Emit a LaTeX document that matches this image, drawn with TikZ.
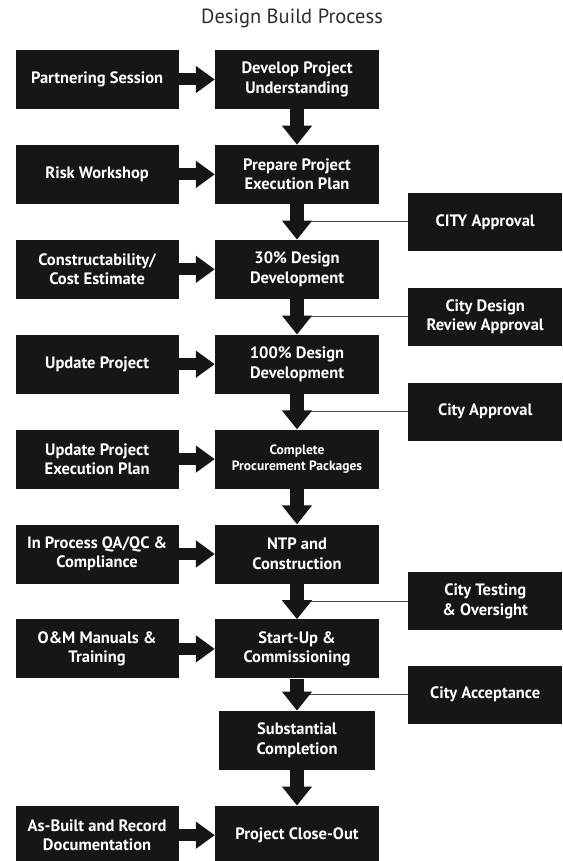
\documentclass[tikz,border=0pt]{standalone}
\usepackage{fontspec}
\setmainfont{PT Sans}
\usetikzlibrary{arrows.meta, positioning, calc}
\definecolor{boxblack}{HTML}{161616}
\definecolor{titlegray}{HTML}{2E2E2E}
\definecolor{tiegray}{HTML}{4A4A4A}

\begin{document}
\begin{tikzpicture}[x=1pt, y=-1pt,
   font=\bfseries\fontsize{16.5}{19.5}\selectfont,
   node distance=35.5pt and 36pt,
   box/.style={rectangle, fill=boxblack, text=white, align=center,
               inner sep=2pt, minimum height=59pt},
   stepbox/.style={box, minimum width=164pt},
   inbox/.style={box, minimum width=163pt},
   citybox/.style={box, minimum width=154pt, minimum height=58pt},
   flow/.style={-{Triangle[width=29pt, length=19pt]}, line width=14pt, boxblack},
   feed/.style={-{Triangle[width=26pt, length=19pt]}, line width=12pt, boxblack},
   tie/.style={tiegray, line width=1pt}]
 \useasboundingbox (0,0) rectangle (562,861);
 \node[font=\mdseries\fontsize{20.5}{24}\selectfont, text=titlegray] (title) at (292,18) {Design Build Process};
 % main column
 \node[stepbox] (dev) at (297,79.5) {Develop Project\\Understanding};
 \node[stepbox, below=of dev]   (prep)  {Prepare Project\\Execution Plan};
 \node[stepbox, below=of prep]  (d30)   {30\% Design\\Development};
 \node[stepbox, below=of d30]   (d100)  {100\% Design\\Development};
 \node[stepbox, below=of d100, font=\bfseries\fontsize{13.5}{16}\selectfont] (proc) {Complete\\Procurement Packages};
 \node[stepbox, below=of proc]  (ntp)   {NTP and\\Construction};
 \node[stepbox, below=of ntp]   (start) {Start-Up \&\\Commissioning};
 \node[stepbox, below=32pt of start, minimum width=156pt] (subst) {Substantial\\Completion};
 \node[stepbox, below=35.5pt of subst] (close) {Project Close-Out};
 % inputs
 \node[inbox, left=of dev]   (partner) {Partnering Session};
 \node[inbox, left=of prep]  (risk)    {Risk Workshop};
 \node[inbox, left=of d30]   (cost)    {Constructability/\\Cost Estimate};
 \node[inbox, left=of d100]  (upd)     {Update Project};
 \node[inbox, left=of proc]  (updpep)  {Update Project\\Execution Plan};
 \node[inbox, left=of ntp]   (qaqc)    {In Process QA/QC \&\\Compliance};
 \node[inbox, left=of start] (om)      {O\&M Manuals \&\\Training};
 \node[inbox, left=of close] (asbuilt) {As-Built and Record\\Documentation};
 % city reviews
 \coordinate (g1) at ($(prep.south)!.5!(d30.north)$);
 \coordinate (g2) at ($(d30.south)!.5!(d100.north)$);
 \coordinate (g3) at ($(d100.south)!.5!(proc.north)$);
 \coordinate (g4) at ($(ntp.south)!.5!(start.north)$);
 \coordinate (g5) at ($(start.south)!.5!(subst.north)$);
 \node[citybox, right=111pt of g1] (cityok)   {CITY Approval};
 \node[citybox, right=111pt of g2] (cityrev)  {City Design\\Review Approval};
 \node[citybox, right=111pt of g3] (cityok2)  {City Approval};
 \node[citybox, right=111pt of g4] (citytest) {City Testing\\\& Oversight};
 \node[citybox, right=111pt of g5] (cityacc)  {City Acceptance};
 \draw[tie] (g1) -- (cityok.west);
 \draw[tie] (g2) -- (cityrev.west);
 \draw[tie] (g3) -- (cityok2.west);
 \draw[tie] (g4) -- (citytest.west);
 \draw[tie] (g5) -- (cityacc.west);
 % arrows
 \draw[flow] (dev)   -- (prep);
 \draw[flow] (prep)  -- (d30);
 \draw[flow] (d30)   -- (d100);
 \draw[flow] (d100)  -- (proc);
 \draw[flow] (proc)  -- (ntp);
 \draw[flow] (ntp)   -- (start);
 \draw[flow] (start) -- (subst);
 \draw[flow] (subst) -- (close);
 \draw[feed] (partner) -- (dev);
 \draw[feed] (risk)    -- (prep);
 \draw[feed] (cost)    -- (d30);
 \draw[feed] (upd)     -- (d100);
 \draw[feed] (updpep)  -- (proc);
 \draw[feed] (qaqc)    -- (ntp);
 \draw[feed] (om)      -- (start);
 \draw[feed] (asbuilt) -- (close);
\end{tikzpicture}
\end{document}
